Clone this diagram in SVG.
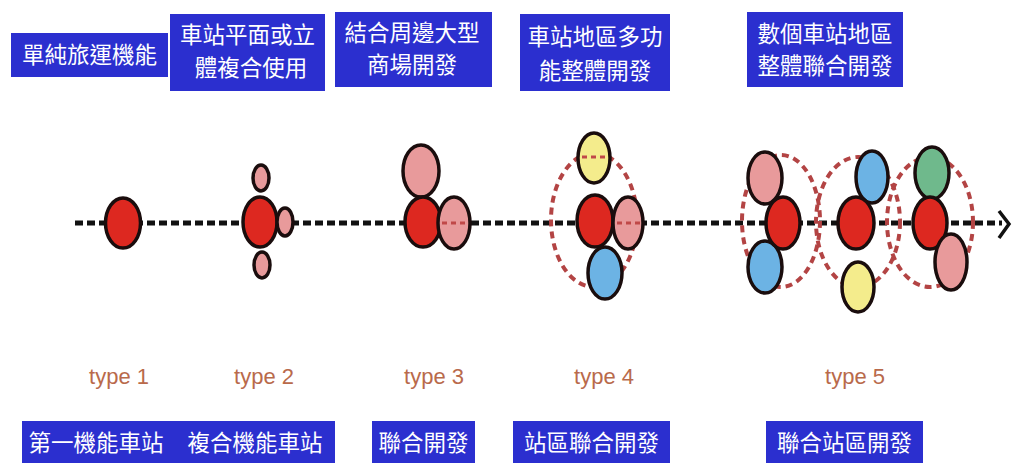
<svg xmlns="http://www.w3.org/2000/svg" width="1014" height="463" viewBox="0 0 1014 463">
<style>
.box{fill:#2b2fcf}
.bt{fill:#ffffff;font-family:"Noto Sans CJK TC","Noto Sans CJK SC",sans-serif;font-size:22.5px;text-anchor:middle}
.ty{fill:#b96a4b;font-family:"Liberation Sans Narrow","Liberation Sans",sans-serif;font-size:22px;text-anchor:middle}
.c{stroke:#1a0d0d;stroke-width:3.5}
.red{fill:#dd2820}
.pink{fill:#e89a9b}
.yel{fill:#f4ec8c}
.blue{fill:#6cb3e4}
.green{fill:#6fb98c}
.dc{fill:none;stroke:#b34444;stroke-width:4;stroke-dasharray:7 5}
</style>
<rect width="1014" height="463" fill="#ffffff"/>
<g id="top-labels">
<g id="t1"><rect class="box" x="11" y="33" width="157" height="44"/><text class="bt" x="89.5" y="63">單純旅運機能</text></g>
<g id="t2"><rect class="box" x="170" y="14" width="155" height="77"/><text class="bt" x="247.5" y="43">車站平面或立</text><text class="bt" x="251" y="76">體複合使用</text></g>
<g id="t3"><rect class="box" x="335" y="12" width="157" height="75"/><text class="bt" x="412" y="41">結合周邊大型</text><text class="bt" x="412" y="73">商場開發</text></g>
<g id="t4"><rect class="box" x="520" y="14" width="150" height="77"/><text class="bt" x="595" y="45">車站地區多功</text><text class="bt" x="595" y="79">能整體開發</text></g>
<g id="t5"><rect class="box" x="747" y="12" width="156" height="75"/><text class="bt" x="825" y="42">數個車站地區</text><text class="bt" x="825" y="74">整體聯合開發</text></g>
</g>
<g id="connectors">
<line x1="75" y1="223" x2="1002" y2="223" stroke="#111" stroke-width="5" stroke-dasharray="8 4"/>
<polyline points="999,211 1009,224 999,238" fill="none" stroke="#111" stroke-width="3.5"/>
</g>
<g id="dashed-areas">
<ellipse class="dc" cx="594" cy="220" rx="43" ry="67"/>
<ellipse class="dc" cx="781" cy="221" rx="39" ry="66"/>
<ellipse class="dc" cx="858" cy="222" rx="42" ry="65"/>
<ellipse class="dc" cx="930" cy="222" rx="43" ry="65"/>
</g>
<g id="type1-node"><ellipse class="c red" cx="123" cy="223" rx="17.5" ry="25"/></g>
<g id="type2-node">
<ellipse class="c pink" cx="261" cy="178" rx="8" ry="13"/>
<ellipse class="c pink" cx="262" cy="265" rx="8" ry="13"/>
<ellipse class="c red" cx="260" cy="222" rx="17" ry="25"/>
<ellipse class="c pink" cx="285" cy="222" rx="8" ry="14"/>
</g>
<g id="type3-node">
<ellipse class="c pink" cx="421" cy="171" rx="18" ry="26"/>
<ellipse class="c red" cx="423" cy="222" rx="18" ry="25"/>
<ellipse class="c pink" cx="454" cy="223" rx="16" ry="26"/>
<line x1="442" y1="223" x2="467" y2="223" stroke="#c04848" stroke-width="3" stroke-dasharray="5 4"/>
</g>
<g id="type4-node">
<ellipse class="c yel" cx="594" cy="158" rx="16" ry="25"/>
<ellipse class="c red" cx="595" cy="221" rx="18" ry="26"/>
<ellipse class="c pink" cx="628" cy="223" rx="15" ry="26"/>
<ellipse class="c blue" cx="605" cy="273" rx="17" ry="26"/>
<line x1="582" y1="157" x2="606" y2="157" stroke="#c04848" stroke-width="3" stroke-dasharray="5 4"/>
<line x1="617" y1="223" x2="640" y2="223" stroke="#c04848" stroke-width="3" stroke-dasharray="5 4"/>
</g>
<g id="type5-node">
<ellipse class="c pink" cx="765" cy="178" rx="17" ry="26"/>
<ellipse class="c blue" cx="765" cy="267" rx="17" ry="26"/>
<ellipse class="c red" cx="783" cy="223" rx="17" ry="26"/>
<ellipse class="c blue" cx="872" cy="177" rx="16" ry="26"/>
<ellipse class="c red" cx="856" cy="223" rx="18" ry="26"/>
<ellipse class="c yel" cx="858" cy="287" rx="16" ry="25"/>
<ellipse class="c green" cx="932" cy="173" rx="17" ry="26"/>
<ellipse class="c red" cx="930" cy="223" rx="17" ry="26"/>
<ellipse class="c pink" cx="951" cy="262" rx="16" ry="28"/>
</g>
<g id="type-labels">
<text class="ty" x="119" y="384">type 1</text>
<text class="ty" x="264" y="384">type 2</text>
<text class="ty" x="434" y="384">type 3</text>
<text class="ty" x="604" y="384">type 4</text>
<text class="ty" x="855" y="384">type 5</text>
</g>
<g id="bottom-labels">
<g id="b1"><rect class="box" x="22" y="421" width="313" height="44"/><text class="bt" x="96" y="451">第一機能車站</text><text class="bt" x="255" y="451">複合機能車站</text></g>
<g id="b2"><rect class="box" x="372" y="421" width="103" height="44"/><text class="bt" x="423.5" y="451">聯合開發</text></g>
<g id="b3"><rect class="box" x="513" y="421" width="157" height="44"/><text class="bt" x="591.5" y="451">站區聯合開發</text></g>
<g id="b4"><rect class="box" x="766" y="421" width="157" height="44"/><text class="bt" x="844.5" y="451">聯合站區開發</text></g>
</g>
</svg>
